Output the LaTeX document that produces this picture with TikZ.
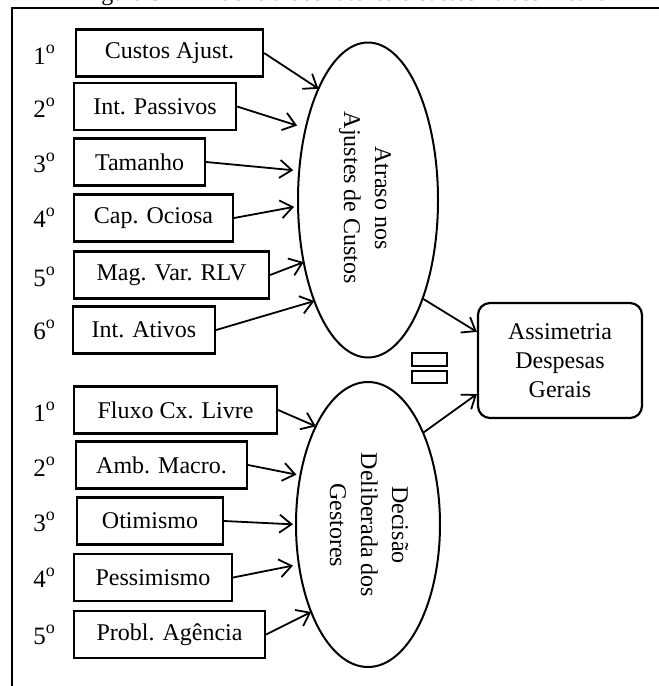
\documentclass[tikz,border=0pt]{standalone}
\usepackage{fontspec}
\setmainfont{Liberation Serif}
\usetikzlibrary{shapes.geometric,arrows.meta}
\tikzset{>={Straight Barb[length=6pt,width=9pt]}}
\newcommand{\ordo}{\raisebox{0.42em}{\fontsize{9}{9}\selectfont o}}

\begin{document}
\begin{tikzpicture}[x=0.5pt,y=-0.5pt,
  font=\fontsize{12}{14.5}\selectfont,
  fator/.style={draw,line width=1.1pt,minimum height=23.5pt,inner sep=0pt},
  elipse/.style={draw,line width=1pt,ellipse,inner sep=0pt,outer sep=0pt},
  rotulo/.style={rotate=-90,align=center,font=\fontsize{12}{15.5}\selectfont},
  seta/.style={->,line width=0.9pt}]
\useasboundingbox (0,0) rectangle (659,686);
\node[anchor=base] (titulo) at (345,0) {Figura 3 -- Influência dos fatores e custos na assimetria};
\draw[line width=1pt] (12,686) -- (12,8) -- (659,8);
\foreach \y/\n in {55/1,108/2,163/3,218/4,277/5,330/6,412/1,467/2,522/3,578/4,635/5}
  \node[font=\fontsize{12.5}{14.5}\selectfont] (ord-\y) at (44,\y) {\n\ordo};
\node[fator,minimum width=93.5pt] (ca) at (169.5,53) {Custos Ajust.};
\node[fator,minimum width=81pt] (ip) at (155,106.5) {Int. Passivos};
\node[fator,minimum width=65.5pt] (ta) at (139.5,162) {Tamanho};
\node[fator,minimum width=79.5pt] (co) at (153.5,218) {Cap. Ociosa};
\node[fator,minimum width=97.5pt] (mv) at (171.5,275) {Mag. Var. RLV};
\node[fator,minimum width=71pt] (ia) at (144,330) {Int. Ativos};
\node[fator,minimum width=101.5pt] (fc) at (175.5,410) {Fluxo Cx. Livre};
\node[fator,minimum width=85.5pt] (am) at (161.5,465) {Amb. Macro.};
\node[fator,minimum width=73pt] (ot) at (150,521) {Otimismo};
\node[fator,minimum width=79pt] (pe) at (153,577.5) {Pessimismo};
\node[fator,minimum width=95.5pt] (pa) at (169.5,634.5) {Probl. Agência};
\node[elipse,minimum width=70pt,minimum height=157.5pt] (e1) at (368,200) {};
\node[rotulo] (t1) at (365,198) {Atraso nos\\Ajustes de Custos};
\node[elipse,minimum width=72pt,minimum height=142.5pt] (e2) at (368,524.5) {};
\node[rotulo] (t2) at (369,525) {Decisão\\Deliberada dos\\Gestores};
\node[draw,line width=1.1pt,rounded corners=6pt,minimum width=82pt,minimum height=57.5pt,align=center] (as) at (560,360.5) {Assimetria\\Despesas\\Gerais};
\draw[line width=0.7pt] (412,353) rectangle (447,366);
\draw[line width=0.7pt] (412,371) rectangle (447,383);
\draw[seta] (ca.east) -- (e1.114);
\draw[seta,shorten >=4.5pt] (ip.east) -- (e1.131);
\draw[seta,shorten >=3pt] (ta.east) -- (e1.157);
\draw[seta,shorten >=2pt] (co.east) -- (e1.185);
\draw[seta] (mv.east) -- (e1.224);
\draw[seta] (ia.east) -- (e1.242);
\draw[seta] (fc.east) -- (e2.118);
\draw[seta,shorten >=2pt] (am.east) -- (e2.144);
\draw[seta,shorten >=1.5pt] (ot.east) -- (e2.180);
\draw[seta,shorten >=3pt] (pe.east) -- (e2.210);
\draw[seta] (pa.east) -- (e2.237);
\draw[seta] (e1.299) -- (as.161.5);
\draw[seta] (e2.59.4) -- (as.202.2);
\end{tikzpicture}
\end{document}
